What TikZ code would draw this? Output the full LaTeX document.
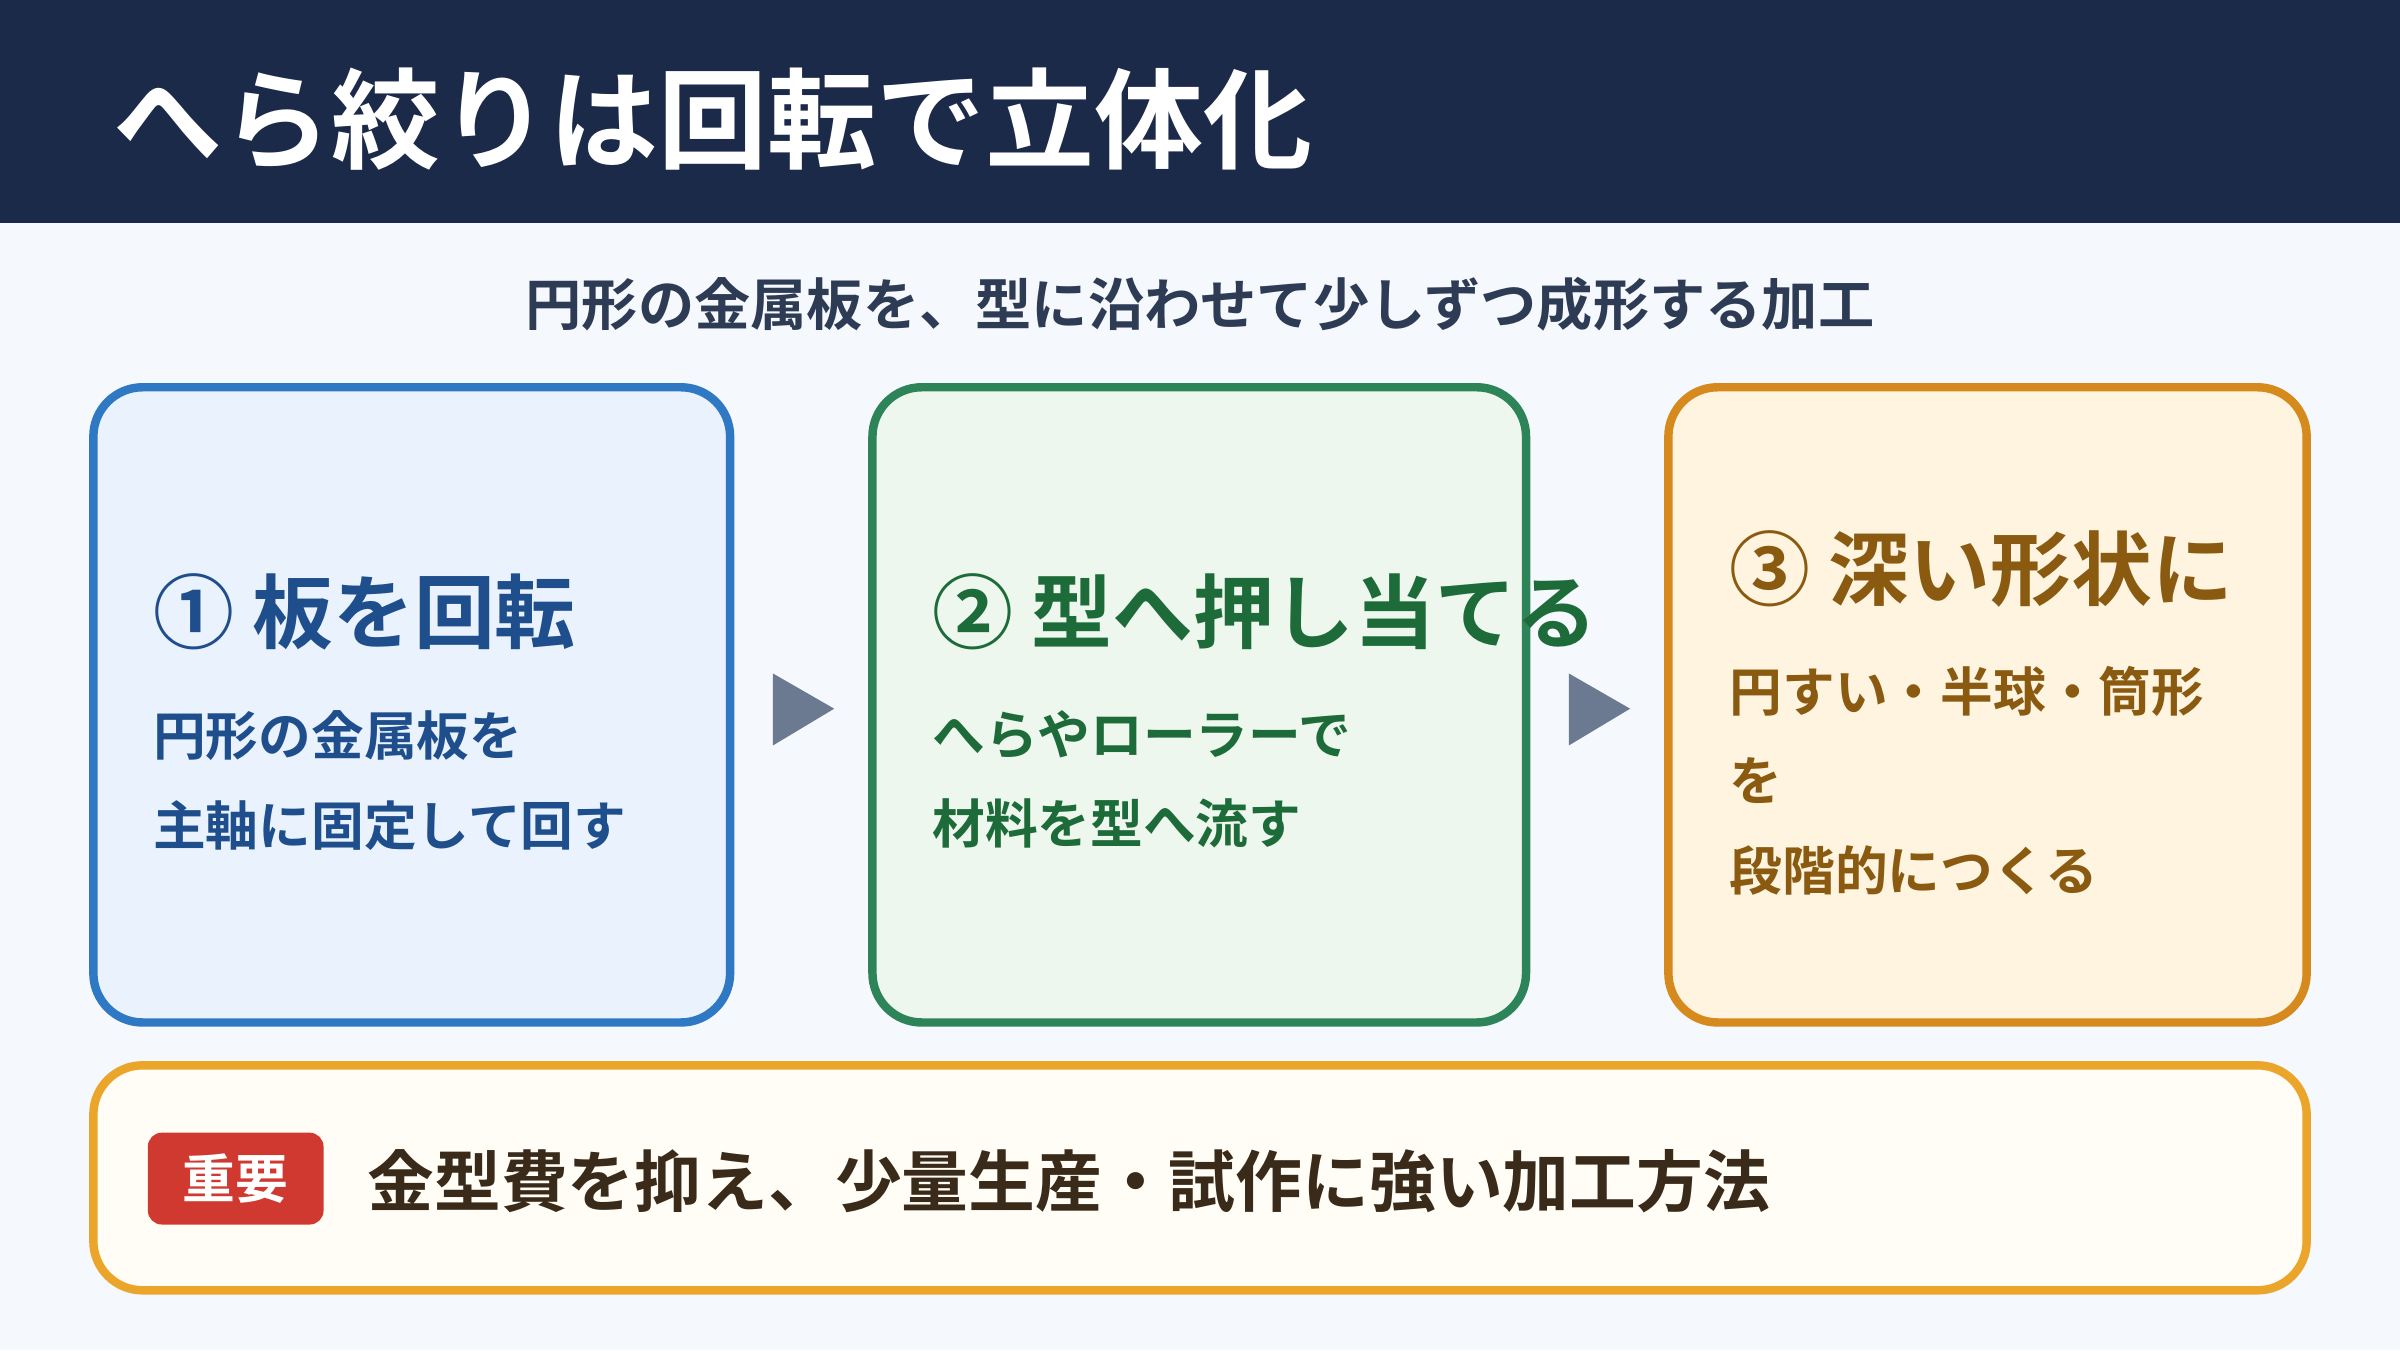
\documentclass[tikz,border=0pt]{standalone}
\usepackage{fontspec}
\setmainfont{Noto Sans CJK JP}[BoldFont={* Bold}]
\usetikzlibrary{positioning}
\definecolor{headnavy}{HTML}{1C2A4A}
\definecolor{pagebg}{HTML}{F5F8FC}
\definecolor{subgray}{HTML}{2E3B55}
\definecolor{stepblue}{HTML}{2F78C4}
\definecolor{stepbluebg}{HTML}{EAF2FE}
\definecolor{stepbluetx}{HTML}{1E4E8C}
\definecolor{stepgreen}{HTML}{2E8459}
\definecolor{stepgreenbg}{HTML}{EDF7EE}
\definecolor{stepgreentx}{HTML}{1E6B3A}
\definecolor{steporange}{HTML}{D68A1E}
\definecolor{steporangebg}{HTML}{FEF4E0}
\definecolor{steporangetx}{HTML}{8A5A10}
\definecolor{notegold}{HTML}{EBA52A}
\definecolor{notebg}{HTML}{FFFDF5}
\definecolor{notetx}{HTML}{3A2A1A}
\definecolor{badgered}{HTML}{D0392F}
\definecolor{arrowgray}{HTML}{6B7A90}
\tikzset{
    stepbox/.style={draw=#1, line width=2.4pt, rounded corners=14pt},
    steptitle/.style={anchor=west, font=\fontsize{23}{28}\selectfont\bfseries},
    stepbody/.style={anchor=north west, align=left, font=\fontsize{15}{25.5}\selectfont\bfseries},
}
\begin{document}
\begin{tikzpicture}[x=0.01531cm, y=-0.01531cm]
    \useasboundingbox (0,0) rectangle (1568,882);
    % background and header
    \fill[pagebg] (0,0) rectangle (1568,882);
    \fill[headnavy] (0,0) rectangle (1568,146);
    \node[anchor=west, white, font=\fontsize{31}{36}\selectfont\bfseries] (title) at (66,78) {へら絞りは回転で立体化};
    \node[subgray, font=\fontsize{16}{20}\selectfont\bfseries] (subtitle) at (784,199) {円形の金属板を、型に沿わせて少しずつ成形する加工};

    % step boxes
    \draw[stepbox=stepblue, fill=stepbluebg] (61,253) rectangle (477,668);
    \draw[stepbox=stepgreen, fill=stepgreenbg] (570,253) rectangle (997,668);
    \draw[stepbox=steporange, fill=steporangebg] (1090,253) rectangle (1507,668);

    % step 1
    \node[steptitle, stepbluetx] (t1) at (92,400) {① 板を回転};
    \node[stepbody, stepbluetx] (b1) at (92,456) {円形の金属板を\\主軸に固定して回す};
    % step 2
    \node[steptitle, stepgreentx] (t2) at (601,400) {② 型へ押し当てる};
    \node[stepbody, stepgreentx] (b2) at (601,456) {へらやローラーで\\材料を型へ流す};
    % step 3
    \node[steptitle, steporangetx] (t3) at (1122,372) {③ 深い形状に};
    \node[stepbody, steporangetx] (b3) at (1122,427) {円すい・半球・筒形\\を\\段階的につくる};

    % arrows
    \fill[arrowgray] (505,440) -- (545,463) -- (505,487) -- cycle;
    \fill[arrowgray] (1025,440) -- (1065,463) -- (1025,487) -- cycle;

    % note
    \draw[stepbox=notegold, fill=notebg] (61,696) rectangle (1507,843);
    \node[fill=badgered, rounded corners=4pt, text=white, minimum width=112\pgflinewidth, font=\fontsize{15}{18}\selectfont\bfseries, inner xsep=10pt, inner ysep=6pt] (badge) at (154,770) {重要};
    \node[anchor=west, notetx, font=\fontsize{19}{24}\selectfont\bfseries] (note) at (232,772) {金型費を抑え、少量生産・試作に強い加工方法};
\end{tikzpicture}
\end{document}
